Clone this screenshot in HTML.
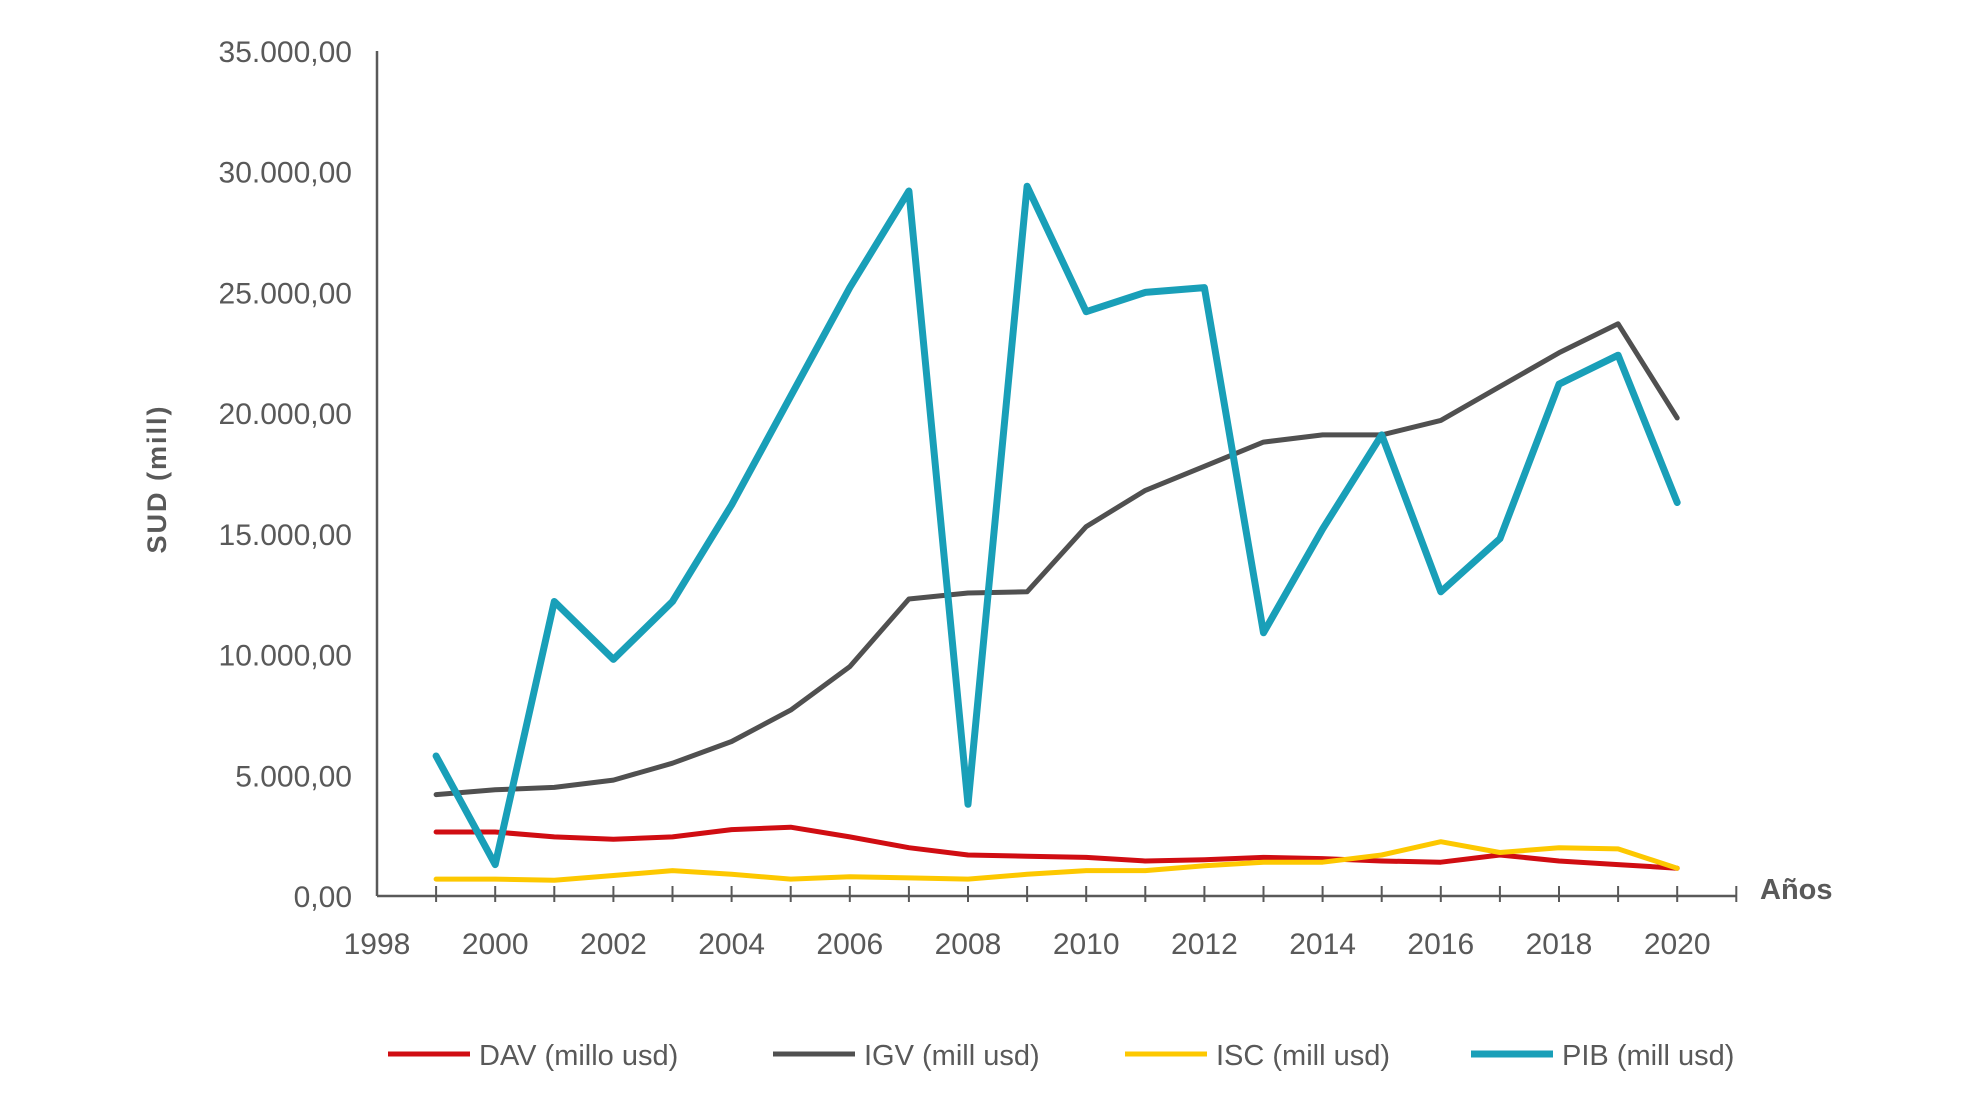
<!DOCTYPE html>
<html><head><meta charset="utf-8"><style>
html,body{margin:0;padding:0;background:#fff;}
svg{display:block;font-family:"Liberation Sans",sans-serif;}
</style></head><body>
<svg id="chart" width="1961" height="1095" viewBox="0 0 1961 1095" xmlns="http://www.w3.org/2000/svg">
<rect width="1961" height="1095" fill="#fff"/>
<g id="grid"></g>
<g id="series"></g>
<text transform="translate(166,479) rotate(-90)" text-anchor="middle" font-size="27" font-weight="bold" fill="#595959" letter-spacing="2">SUD (mill)</text>
<text x="1760" y="899" font-size="29" font-weight="bold" fill="#595959">Años</text>
<g id="legend"></g>
</svg>
<script>
const years=[1999,2000,2001,2002,2003,2004,2005,2006,2007,2008,2009,2010,2011,2012,2013,2014,2015,2016,2017,2018,2019,2020];
const dav=[2650,2650,2450,2350,2450,2750,2850,2450,2000,1700,1650,1600,1450,1500,1600,1550,1450,1400,1700,1450,1300,1150];
const igv=[4200,4400,4500,4800,5500,6400,7700,9500,12300,12550,12600,15300,16800,17800,18800,19100,19100,19700,21100,22500,23700,19800];
const isc=[700,700,650,850,1050,900,700,800,750,700,900,1050,1050,1250,1400,1400,1700,2250,1800,2000,1950,1150];
const pib=[5800,1300,12200,9800,12200,16200,20700,25200,29200,3800,29400,24200,25000,25200,10900,15200,19100,12600,14800,21200,22400,16300];
const yTicks=[0,5000,10000,15000,20000,25000,30000,35000];
const yTickLabels=["0,00","5.000,00","10.000,00","15.000,00","20.000,00","25.000,00","30.000,00","35.000,00"];
const xLabels=[1998,2000,2002,2004,2006,2008,2010,2012,2014,2016,2018,2020];
const seriesNames=["DAV (millo usd)","IGV (mill usd)","ISC (mill usd)","PIB (mill usd)"];
const NS="http://www.w3.org/2000/svg";
const X0=377,PX=59.1,Y0=896,YT=51,YMAX=35000;
const x=yr=>X0+(yr-1998)*PX;
const y=v=>Y0-(v/YMAX)*(Y0-YT);
function mk(tag,attrs,parent){const e=document.createElementNS(NS,tag);for(const k in attrs)e.setAttribute(k,attrs[k]);parent.appendChild(e);return e;}
const grid=document.getElementById('grid');
let ax=mk('line',{x1:X0,y1:YT,x2:X0,y2:Y0,stroke:'#595959','stroke-width':2.5},grid);


let bx=mk('line',{x1:X0,y1:Y0,x2:x(2021),y2:Y0,stroke:'#595959','stroke-width':2.5},grid);


yTicks.forEach((v,i)=>{
  const t=mk('text',{x:352,y:y(v)+11,'text-anchor':'end','font-size':30,fill:'#595959'},grid);
  t.textContent=yTickLabels[i];
  
  
});
for(let yr=1999;yr<=2021;yr++){
  const tk=mk('line',{x1:x(yr),y1:Y0-10,x2:x(yr),y2:Y0+6,stroke:'#595959','stroke-width':2},grid);
  
  
}
xLabels.forEach(yr=>{
  const t=mk('text',{x:x(yr),y:954,'text-anchor':'middle','font-size':30,fill:'#595959'},grid);
  t.textContent=yr;
  
  
});
const sg=document.getElementById('series');
const defs=[[dav,'#d00d12',5,'dav-line'],[igv,'#505050',5,'igv-line'],[isc,'#fdc800',5,'isc-line'],[pib,'#199fb8',7,'pib-line']];
defs.forEach(([d,c,w,n])=>{
  const pts=d.map((v,i)=>x(years[i]).toFixed(1)+','+y(v).toFixed(1)).join(' ');
  const p=mk('polyline',{points:pts,fill:'none',stroke:c,'stroke-width':w,'stroke-linejoin':'round','stroke-linecap':'round'},sg);
  
  
});
const lg=document.getElementById('legend');
const lx=[388,773,1125,1471];
defs.forEach(([d,c,w,n],i)=>{
  const g=mk('g',{},lg);
  
  
  mk('line',{x1:lx[i],y1:1054,x2:lx[i]+82,y2:1054,stroke:c,'stroke-width':w},g);
  const t=mk('text',{x:lx[i]+91,y:1065,'font-size':29,fill:'#595959'},g);
  t.textContent=seriesNames[i];
});
</script>
</body></html>
